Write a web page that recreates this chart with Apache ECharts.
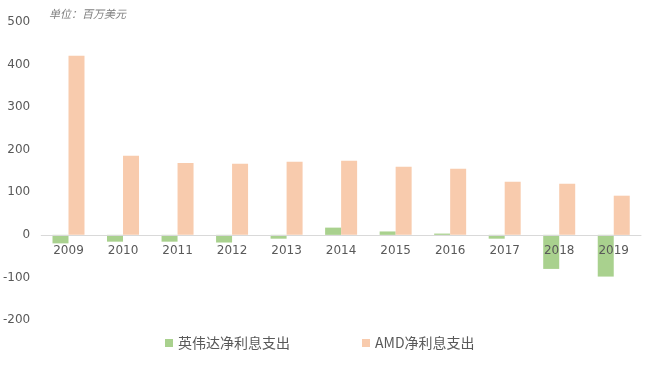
<!DOCTYPE html>
<html><head><meta charset="utf-8">
<script src="https://cdn.jsdelivr.net/npm/echarts@6/dist/echarts.min.js"></script>
<style>html,body{margin:0;padding:0;background:#fff}#c{width:646px;height:367px}</style>
</head><body><div id="c"></div>
<script>
const categories = ['2009','2010','2011','2012','2013','2014','2015','2016','2017','2018','2019'];
const nvidiaValues = [-20,-16,-16,-18,-9,17,8,3,-9,-80,-98];
const amdValues = [421,186,169,167,172,174,160,155,125,120,92];
const seriesNames = ['英伟达净利息支出','AMD净利息支出'];
const unitText = '单位：百万美元';

const chart = echarts.init(document.getElementById('c'));
chart.setOption({
  animation: false,
  title: {text: unitText, left: 44, top: 3,
    textStyle: {fontSize: 11, fontWeight: 'normal', fontStyle: 'italic', color: '#7f7f7f', fontFamily: 'Noto Sans CJK SC'}},
  legend: {left: 160, top: 331, itemWidth: 8, itemHeight: 8, itemGap: 72, icon: 'rect',
    textStyle: {fontSize: 14, color: '#595959', fontFamily: 'Noto Sans CJK SC'},
    data: seriesNames},
  grid: {left: 39, right: 5, top: 22, bottom: 47},
  xAxis: {type: 'category', data: categories, offset: -85, z: 5,
    axisLine: {onZero: false, lineStyle: {color: '#d9d9d9'}}, axisTick: {show: false},
    axisLabel: {color: '#595959', fontSize: 12, margin: 10, fontFamily: 'DejaVu Sans'}},
  yAxis: {type: 'value', min: -200, max: 500, interval: 100,
    splitLine: {show: false}, axisLine: {show: false}, axisTick: {show: false},
    axisLabel: {color: '#595959', fontSize: 12, margin: 11, fontFamily: 'DejaVu Sans'}},
  series: [
    {name: seriesNames[0], type: 'bar', data: nvidiaValues, barWidth: 16, barGap: '0%', itemStyle: {color: '#A9D18E'}},
    {name: seriesNames[1], type: 'bar', data: amdValues, barWidth: 16, barGap: '0%', itemStyle: {color: '#F8CBAD'}}
  ]
});
</script></body></html>
